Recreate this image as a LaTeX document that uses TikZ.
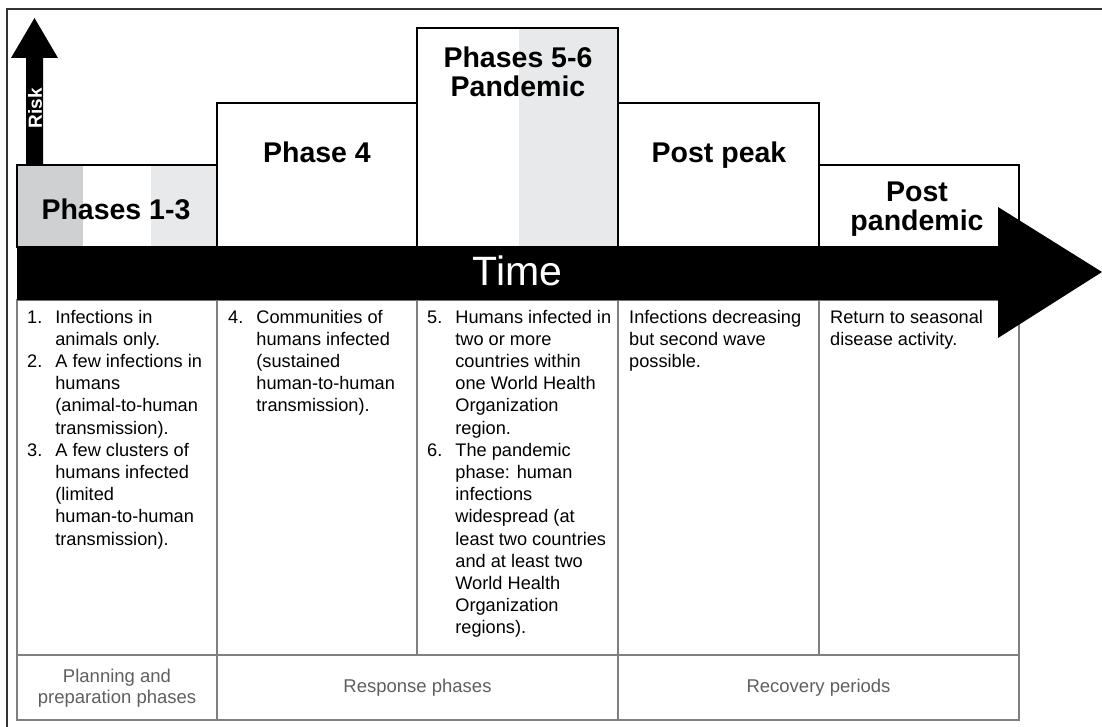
\documentclass[tikz,border=0pt]{standalone}
\usepackage{fontspec}
\setmainfont{Liberation Sans}
\definecolor{shadedark}{RGB}{207,208,210}
\definecolor{shadelight}{RGB}{232,233,234}
\definecolor{tablegray}{RGB}{128,128,128}
\definecolor{labelgray}{RGB}{95,95,95}
\newcommand{\bodyfont}{\fontsize{18.2}{22.2}\selectfont}

\begin{document}
\begin{tikzpicture}[x=1pt,y=-1pt,
		head/.style={anchor=base,align=center,font=\fontsize{28.5}{29}\selectfont\bfseries},
		cell/.style={anchor=base west,inner sep=0pt,font=\bodyfont},
		period/.style={align=center,text=labelgray,font=\fontsize{18.5}{20.5}\selectfont},
		hbox/.style={draw=black,line width=1.5pt},
		grid/.style={draw=tablegray,line width=1.8pt}]
			\useasboundingbox (0,0) rectangle (1102,727);
			\draw[black!80,line width=1.6pt] (7,727) -- (7,9) -- (1102,9);
			% shading of the phase boxes
			\fill[shadedark] (17,165) rectangle (83,247);
			\fill[shadelight] (150.5,165) rectangle (217,247);
			\fill[shadelight] (519,28) rectangle (618,247);
			% phase boxes
			\draw[hbox] (17,165) rectangle (217,247);
			\draw[hbox] (217,103) rectangle (417,247);
			\draw[hbox] (417,28) rectangle (618,247);
			\draw[hbox] (618,103) rectangle (819,247);
			\draw[hbox] (819,165) rectangle (1019,247);
			% table
			\draw[grid] (17,300) rectangle (1019,720);
			\draw[grid] (17,655) -- (1019,655);
			\foreach \x in {217,417,618,819}
				\draw[grid] (\x,300) -- (\x,655);
			\foreach \x in {217,618}
				\draw[grid] (\x,655) -- (\x,720);
			% arrows
			\fill[black] (17,247) -- (998,247) -- (998,207) -- (1102,272) -- (998,338) -- (998,300) -- (17,300) -- cycle;
			\fill[black] (26,165) -- (26,58) -- (11,58) -- (34.5,18) -- (58,58) -- (43,58) -- (43,165) -- cycle;
			\node (risk) [rotate=90,text=white,font=\fontsize{19}{19}\selectfont\bfseries] at (35,108) {Risk};
			\node (time) [anchor=base,text=white,font=\fontsize{41}{41}\selectfont] at (517.5,285) {Time};
			% headings
			\node (p13) [head] at (116,220) {Phases 1-3};
			\node (p4) [head] at (317,163) {Phase 4};
			\node (p56) [head] at (518,97) {Phases 5-6\\Pandemic};
			\node (peak) [head] at (719,163) {Post peak};
			\node (postp) [head] at (917,231) {Post\\pandemic};
			% descriptions
			\node (d13) [cell] at (27,323) {\begin{tabular}[t]{@{}l@{\hspace{13pt}}l@{}}
				1. & Infections in\\ & animals only.\\
				2. & A few infections in\\ & humans\\ & (animal-to-human\\ & transmission).\\
				3. & A few clusters of\\ & humans infected\\ & (limited\\ & human-to-human\\ & transmission).
				\end{tabular}};
			\node (d4) [cell] at (228,323) {\begin{tabular}[t]{@{}l@{\hspace{13pt}}l@{}}
				4. & Communities of\\ & humans infected\\ & (sustained\\ & human-to-human\\ & transmission).
				\end{tabular}};
			\node (d56) [cell] at (427,323) {\begin{tabular}[t]{@{}l@{\hspace{13pt}}l@{}}
				5. & Humans infected in\\ & two or more\\ & countries within\\ & one World Health\\ & Organization\\ & region.\\
				6. & The pandemic\\ & phase: human\\ & infections\\ & widespread (at\\ & least two countries\\ & and at least two\\ & World Health\\ & Organization\\ & regions).
				\end{tabular}};
			\node (dpeak) [cell] at (629,323) {\begin{tabular}[t]{@{}l@{}}
				Infections decreasing\\ but second wave\\ possible.
				\end{tabular}};
			\node (dpostp) [cell] at (830,323) {\begin{tabular}[t]{@{}l@{}}
				Return to seasonal\\ disease activity.
				\end{tabular}};
			% periods
			\node (plan) [period] at (117,688) {Planning and\\preparation phases};
			\node (resp) [period] at (417.5,688) {Response phases};
			\node (recov) [period] at (818.5,688) {Recovery periods};
		\end{tikzpicture}
\end{document}
